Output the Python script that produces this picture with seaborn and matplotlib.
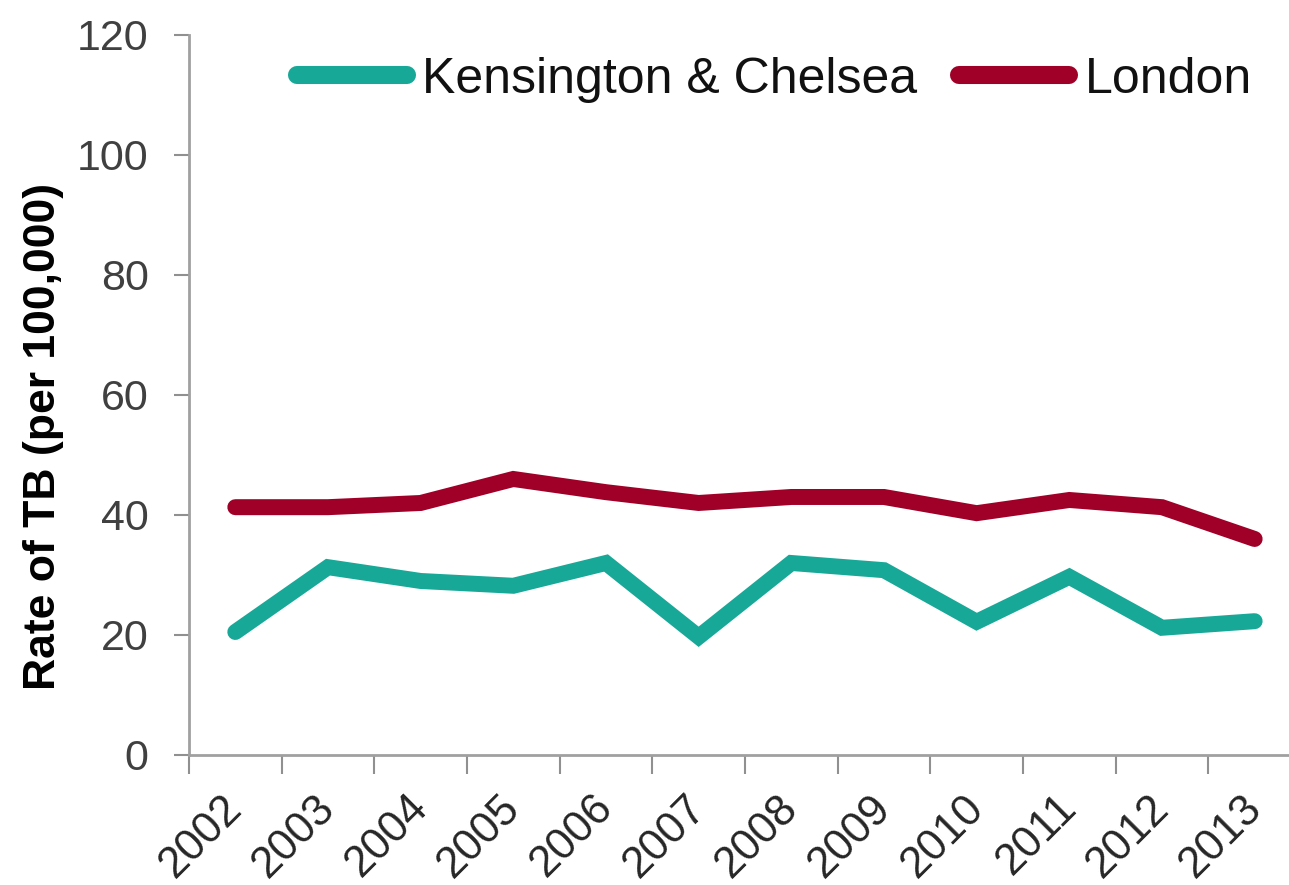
import numpy as np
import pandas as pd
import matplotlib
matplotlib.use("Agg")
import matplotlib.pyplot as plt
from matplotlib.ticker import FixedLocator
from matplotlib.transforms import ScaledTranslation
import seaborn as sns

# DATOS

YEARS = ["2002", "2003", "2004", "2005", "2006", "2007",
         "2008", "2009", "2010", "2011", "2012", "2013"]
KC_RATE = [20.5, 31.3, 29.0, 28.2, 32.0, 19.7, 32.0, 30.8, 22.2, 29.7, 21.2, 22.3]
LONDON_RATE = [41.3, 41.3, 42.0, 46.0, 43.8, 42.0, 43.0, 43.0, 40.3, 42.5, 41.3, 36.0]
SERIES = ["Kensington & Chelsea", "London"]
COLORS = ["#17a898", "#a00028"]

df = pd.DataFrame({
    "year": YEARS * 2,
    "rate": KC_RATE + LONDON_RATE,
    "area": [SERIES[0]] * len(YEARS) + [SERIES[1]] * len(YEARS),
})
df["pos"] = df["year"].map({y: i for i, y in enumerate(YEARS)})

sns.set_style("white")
plt.rcParams["font.family"] = ["Liberation Sans", "DejaVu Sans"]

fig = plt.figure(figsize=(12.89, 8.85), dpi=100)
ax = fig.add_axes([0.1466, 0.1469, 0.8627, 0.8136])

sns.lineplot(data=df, x="pos", y="rate", hue="area", hue_order=SERIES,
             palette=COLORS, linewidth=11.5, ax=ax, sort=False)
for ln in ax.lines:
    ln.set_solid_capstyle("round")
    ln.set_solid_joinstyle("miter")

ax.set_xlim(-0.5, len(YEARS) - 0.5)
ax.set_ylim(0, 120)
ax.set_yticks(np.arange(0, 121, 20))

# ticks entre categorías, etiquetas al centro
ax.set_xticks(np.arange(len(YEARS)))
ax.set_xticklabels(YEARS, rotation=45, ha="right", rotation_mode="anchor")
ax.xaxis.set_minor_locator(FixedLocator(np.arange(-0.5, len(YEARS), 1.0)))
ax.tick_params(axis="x", which="major", bottom=False, length=0, pad=23,
               labelsize=31.5, labelcolor="#262626")
ax.tick_params(axis="x", which="minor", bottom=True, length=14, width=1.5,
               color="#909090", direction="out")
ax.tick_params(axis="y", left=True, length=11, width=1.5, color="#909090",
               direction="out", labelsize=31, labelcolor="#404040", pad=18)
shift = ScaledTranslation(-10 / 72, 0, fig.dpi_scale_trans)
for lab in ax.get_xticklabels():
    lab.set_transform(lab.get_transform() + shift)

for side in ["top", "right"]:
    ax.spines[side].set_visible(False)
for side in ["left", "bottom"]:
    ax.spines[side].set_color("#a0a0a0")
    ax.spines[side].set_linewidth(2)

ax.set_xlabel("")
ax.set_ylabel("Rate of TB (per 100,000)", fontsize=32, fontweight="bold",
              color="black")
ax.yaxis.set_label_coords(-0.112, 0.442)

leg = ax.legend(loc="center left", bbox_to_anchor=(0.097, 0.9375), ncol=2,
                frameon=False, fontsize=36, handlelength=2.2,
                handletextpad=0.3, columnspacing=0.85,
                borderpad=0, borderaxespad=0)
for h in leg.get_lines():
    h.set_linewidth(13)
    h.set_solid_capstyle("round")
for t in leg.get_texts():
    t.set_color("#111111")

fig.savefig("out.png", dpi=100)
